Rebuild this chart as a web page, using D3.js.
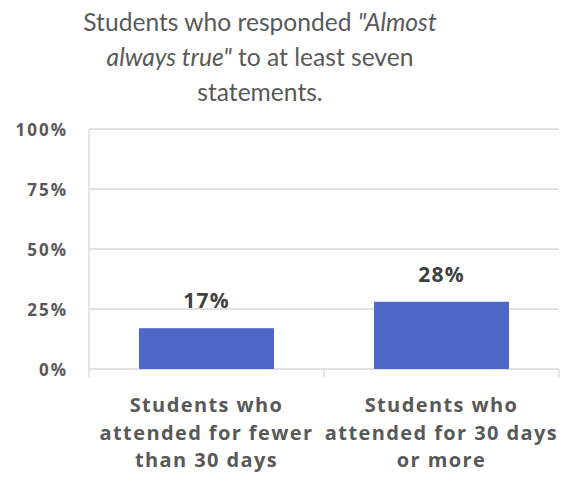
<!DOCTYPE html>
<html>
<head>
<meta charset="utf-8">
<script src="https://cdn.jsdelivr.net/npm/d3@7"></script>
<style>
  html, body { margin: 0; padding: 0; background: #fff; }
  svg { display: block; font-family: Lato, "Open Sans", sans-serif; }
</style>
</head>
<body>
<svg id="chart" width="572" height="481"></svg>
<script>
// Share of students answering "Almost always true" to at least seven statements
const categories = [
  ["Students who", "attended for fewer", "than 30 days"],
  ["Students who", "attended for 30 days", "or more"]
];
const values = [0.17, 0.28];
const yTicks = [0, 0.25, 0.5, 0.75, 1];

const svg = d3.select("#chart");
const margin = { left: 89, right: 13, top: 129, bottom: 112 };
const W = 572, H = 481;
const boldFont = "'Open Sans', sans-serif";

const x = d3.scaleBand()
  .domain(d3.range(values.length))
  .range([margin.left, W - margin.right])
  .paddingInner(0.4255)
  .paddingOuter(0.4255 / 2);

const y = d3.scaleLinear().domain([0, 1]).range([H - margin.bottom, margin.top]);

// Title
const titleX = 260;
const title = svg.append("text")
  .attr("text-anchor", "middle")
  .attr("fill", "#595959")
  .attr("font-size", 24.6);
const t1 = title.append("tspan").attr("x", titleX).attr("y", 31);
t1.append("tspan").text("Students who responded ");
t1.append("tspan").attr("font-style", "italic").text("\"Almost");
const t2 = title.append("tspan").attr("x", titleX).attr("y", 66);
t2.append("tspan").attr("font-style", "italic").text("always true\"");
t2.append("tspan").text(" to at least seven");
title.append("tspan").attr("x", titleX).attr("y", 101).text("statements.");

// Gridlines
svg.append("g")
  .selectAll("line")
  .data(yTicks)
  .join("line")
  .attr("x1", margin.left)
  .attr("x2", W - margin.right)
  .attr("y1", d => y(d))
  .attr("y2", d => y(d))
  .attr("stroke", "#d9d9d9")
  .attr("stroke-width", 1.3);

// Y axis
const yAxis = svg.append("g")
  .attr("transform", `translate(${margin.left},0)`)
  .call(d3.axisLeft(y).tickValues(yTicks).tickFormat(d3.format(".0%")).tickSize(0).tickPadding(21));
yAxis.select(".domain").remove();
yAxis.selectAll("text")
  .attr("fill", "#595959")
  .attr("font-size", 17)
  .attr("font-weight", "bold")
  .attr("font-family", boldFont)
  .attr("letter-spacing", 2)
  .attr("dy", "0.36em");

// Vertical axis line
svg.append("line")
  .attr("x1", margin.left).attr("x2", margin.left)
  .attr("y1", margin.top).attr("y2", y(0) + 8)
  .attr("stroke", "#d9d9d9").attr("stroke-width", 1.3);

// Category separator ticks below the baseline
const step = x.step();
svg.append("g")
  .selectAll("line")
  .data(d3.range(values.length))
  .join("line")
  .attr("x1", i => x(i) - x.paddingOuter() * step + step)
  .attr("x2", i => x(i) - x.paddingOuter() * step + step)
  .attr("y1", y(0))
  .attr("y2", y(0) + 8)
  .attr("stroke", "#d9d9d9").attr("stroke-width", 1.3);

// Bars
svg.append("g")
  .selectAll("rect")
  .data(values)
  .join("rect")
  .attr("x", (d, i) => x(i))
  .attr("y", d => y(d))
  .attr("width", x.bandwidth())
  .attr("height", d => y(0) - y(d))
  .attr("fill", "#4f67c7");

// Value labels
svg.append("g")
  .selectAll("text")
  .data(values)
  .join("text")
  .attr("x", (d, i) => x(i) + x.bandwidth() / 2)
  .attr("y", d => y(d) - 20)
  .attr("text-anchor", "middle")
  .attr("fill", "#404040")
  .attr("font-size", 21)
  .attr("font-weight", "bold")
  .attr("font-family", boldFont)
  .attr("letter-spacing", 1.2)
  .text(d => d3.format(".0%")(d));

// Category labels
const catG = svg.append("g");
categories.forEach((lines, i) => {
  const t = catG.append("text")
    .attr("text-anchor", "middle")
    .attr("fill", "#595959")
    .attr("font-size", 20)
    .attr("font-weight", "bold")
    .attr("font-family", boldFont)
    .attr("letter-spacing", 1.4);
  lines.forEach((ln, j) => {
    t.append("tspan")
      .attr("x", x(i) + x.bandwidth() / 2)
      .attr("y", 412 + j * 27.6)
      .text(ln);
  });
});
</script>
</body>
</html>
